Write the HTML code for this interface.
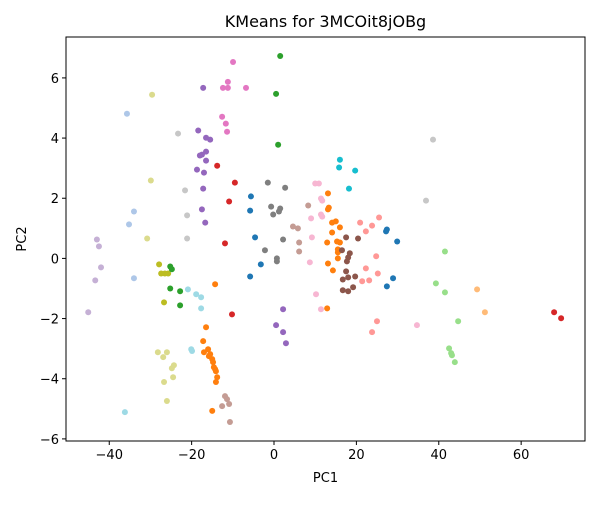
<!DOCTYPE html>
<html><head><meta charset="utf-8"><style>
body{margin:0;background:#fff;font-family:"Liberation Sans","DejaVu Sans",sans-serif;}
svg text{font-family:"DejaVu Sans","Liberation Sans",sans-serif;fill:#000;}
</style></head><body>
<svg id="chart" width="600" height="500" xmlns="http://www.w3.org/2000/svg"></svg>
<script>
const title = "KMeans for 3MCOit8jOBg";
const xTicks = [-40,-20,0,20,40,60];
const yTicks = [-6,-4,-2,0,2,4,6];
const palette = ["#1f77b4","#aec7e8","#ff7f0e","#ffbb78","#2ca02c","#98df8a","#d62728","#ff9896","#9467bd","#c5b0d5","#8c564b","#c49c94","#e377c2","#f7b6d2","#7f7f7f","#c7c7c7","#bcbd22","#dbdb8d","#17becf","#9edae5"];
const pcX = [
-9.95,-11.2,-12.4,-11.2,-6.8,-12.6,-11.7,-11.4,
-17.2,-18.4,-16.5,-15.5,-16.5,-17.5,-18.0,-16.5,-18.7,-17.0,-17.2,-17.5,-16.7,2.2,0.5,2.2,2.9,
-13.8,-9.5,-10.9,-11.9,-10.2,68.0,69.7,
-5.6,-5.8,-4.6,-5.8,-3.2,27.4,28.9,27.2,27.4,29.9,
-29.6,-29.9,-30.8,-28.2,-26.0,-26.9,-24.3,-24.8,-24.5,-26.7,-26.0,
-35.7,-34.0,-35.2,-34.0,
-23.3,-21.6,-21.1,-21.1,38.6,36.9,
-43.0,-42.5,-42.0,-43.4,-45.1,
-27.9,-27.4,-26.5,-25.7,-26.7,
-25.2,-24.8,-25.2,-22.8,-22.8,1.5,0.5,1.0,
-20.9,-18.9,-17.7,-17.7,-20.1,-19.9,-36.2,
-14.3,-16.5,-17.2,-16.0,-17.0,-15.5,-15.0,-15.8,-14.6,-14.3,-14.1,-13.8,-14.1,-15.0,-14.8,
13.1,13.3,13.1,14.1,15.0,16.0,14.1,12.9,15.3,16.0,15.5,15.5,15.5,13.1,14.3,12.9,
-11.9,-11.4,-10.9,-12.6,-10.7,8.3,4.6,5.8,6.1,6.1,
-1.5,2.7,-0.7,1.5,1.2,-0.2,2.2,-2.2,0.7,0.7,
10.0,10.9,11.4,11.7,11.4,11.7,9.0,9.2,8.7,10.2,11.4,34.7,
16.0,15.8,19.7,18.2,
17.5,20.4,16.5,18.4,18.0,17.7,17.5,18.0,19.7,16.7,19.2,16.7,18.0,
25.5,20.9,23.8,22.3,24.8,22.3,25.2,21.4,23.1,25.0,23.8,
41.5,39.3,41.5,44.7,42.5,43.0,43.2,43.9,
49.3,51.2];
const pcY = [
6.53,5.87,5.67,5.67,5.67,4.71,4.48,4.21,
5.67,4.25,4.01,3.95,3.55,3.45,3.42,3.25,2.95,2.85,2.32,1.63,1.19,-1.69,-2.22,-2.45,-2.82,
3.08,2.52,1.89,0.50,-1.86,-1.79,-1.99,
2.06,1.59,0.70,-0.60,-0.20,-0.93,-0.66,0.90,0.96,0.56,
5.44,2.59,0.66,-3.12,-3.12,-3.28,-3.55,-3.65,-3.95,-4.11,-4.74,
4.81,1.56,1.13,-0.66,
4.15,2.26,1.43,0.66,3.95,1.92,
0.63,0.40,-0.30,-0.73,-1.79,
-0.20,-0.50,-0.50,-0.50,-1.46,
-0.27,-0.36,-1.00,-1.09,-1.56,6.73,5.47,3.78,
-1.03,-1.19,-1.29,-1.66,-3.02,-3.08,-5.11,
-0.86,-2.29,-2.75,-3.02,-3.12,-3.18,-3.35,-3.25,-3.62,-3.68,-3.75,-3.95,-4.11,-5.07,-3.45,
2.16,1.69,1.63,1.19,1.23,1.03,0.86,0.53,0.56,0.53,0.30,0.20,0.0,-0.17,-0.40,-1.66,
-4.58,-4.68,-4.84,-4.91,-5.44,1.76,1.06,1.00,0.53,0.23,
2.52,2.35,1.72,1.66,1.56,1.46,0.63,0.27,0.0,-0.10,
2.49,2.49,1.99,1.92,1.46,1.39,1.33,0.70,-0.13,-1.19,-1.69,-2.22,
3.28,3.02,2.92,2.32,
0.70,0.66,0.27,0.17,0.03,-0.10,-0.43,-0.63,-0.60,-0.70,-0.96,-1.06,-1.09,
1.36,1.19,1.09,0.90,0.07,-0.33,-0.50,-0.76,-0.73,-2.09,-2.45,
0.23,-0.83,-1.13,-2.09,-2.99,-3.15,-3.22,-3.45,
-1.03,-1.79];
const clusterId = [
12,12,12,12,12,12,12,12,
8,8,8,8,8,8,8,8,8,8,8,8,8,8,8,8,8,
6,6,6,6,6,6,6,
0,0,0,0,0,0,0,0,0,0,
17,17,17,17,17,17,17,17,17,17,17,
1,1,1,1,
15,15,15,15,15,15,
9,9,9,9,9,
16,16,16,16,16,
4,4,4,4,4,4,4,4,
19,19,19,19,19,19,19,
2,2,2,2,2,2,2,2,2,2,2,2,2,2,2,
2,2,2,2,2,2,2,2,2,2,2,2,2,2,2,2,
11,11,11,11,11,11,11,11,11,11,
14,14,14,14,14,14,14,14,14,14,
13,13,13,13,13,13,13,13,13,13,13,13,
18,18,18,18,
10,10,10,10,10,10,10,10,10,10,10,10,10,
7,7,7,7,7,7,7,7,7,7,7,
5,5,5,5,5,5,5,5,
3,3];

const NS="http://www.w3.org/2000/svg";
const svg=document.getElementById('chart');
const L=66,R=585,T=37,B=441;
const xMin=-50.5,xMax=75.5,yMin=-6.07,yMax=7.36;
const sx=v=>L+(v-xMin)/(xMax-xMin)*(R-L);
const sy=v=>B-(v-yMin)/(yMax-yMin)*(B-T);
function mk(tag,attrs){const e=document.createElementNS(NS,tag);for(const k in attrs)e.setAttribute(k,attrs[k]);svg.appendChild(e);return e;}

const t=mk('text',{x:(L+R)/2,y:27,'text-anchor':'middle','font-size':16});
t.textContent=title;



for(let i=0;i<pcX.length;i++){
  const c=mk('circle',{cx:sx(pcX[i]),cy:sy(pcY[i]),r:3,fill:palette[clusterId[i]]});
  
  
}

const frame=mk('rect',{x:L,y:T,width:R-L,height:B-T,fill:'none',stroke:'#000','stroke-width':1});



xTicks.forEach(v=>{
  const x=sx(v);
  const tk=mk('line',{x1:x,x2:x,y1:B,y2:B+4,stroke:'#000'});
  
  
  const lb=mk('text',{x:x,y:B+18,'text-anchor':'middle','font-size':13});
  lb.textContent=v<0?'\u2212'+Math.abs(v):String(v);
  
  
});
yTicks.forEach(v=>{
  const y=sy(v);
  const tk=mk('line',{x1:L-4,x2:L,y1:y,y2:y,stroke:'#000'});
  
  
  const lb=mk('text',{x:L-7,y:y+5,'text-anchor':'end','font-size':13});
  lb.textContent=v<0?'\u2212'+Math.abs(v):String(v);
  
  
});
const xl=mk('text',{x:(L+R)/2,y:482,'text-anchor':'middle','font-size':13});
xl.textContent='PC1';


const yl=mk('text',{x:0,y:0,'text-anchor':'middle','font-size':13,transform:'translate(26,'+((T+B)/2)+') rotate(-90)'});
yl.textContent='PC2';


</script>
</body></html>
